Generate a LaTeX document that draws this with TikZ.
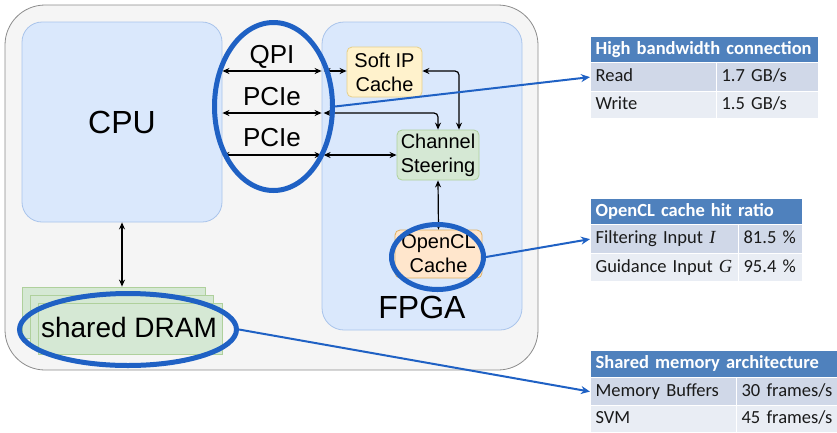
\documentclass[tikz,border=0pt]{standalone}
\usepackage{fontspec}
\setmainfont{Liberation Sans}
\newfontfamily\calibri{Carlito}
\newfontfamily\serifit{Liberation Serif}
\usetikzlibrary{arrows.meta,shapes.geometric}
\definecolor{outerfill}{HTML}{F5F5F5}
\definecolor{outerdraw}{HTML}{8C8C8C}
\definecolor{bluefill}{HTML}{DAE8FC}
\definecolor{bluedraw}{HTML}{A9C4EB}
\definecolor{yelfill}{HTML}{FFF2CC}
\definecolor{yeldraw}{HTML}{E6CF8A}
\definecolor{grnfill}{HTML}{D5E8D4}
\definecolor{grndraw}{HTML}{AFD09C}
\definecolor{orgfill}{HTML}{FFE6CC}
\definecolor{orgdraw}{HTML}{E0B060}
\definecolor{hiblue}{HTML}{1F61C4}
\definecolor{hdrfill}{HTML}{4F81BD}
\definecolor{rowa}{HTML}{D0D8E8}
\definecolor{rowb}{HTML}{E9EDF4}
\definecolor{celltext}{HTML}{1A1A1A}
\tikzset{
  box/.style={shape=rectangle, inner sep=0pt, align=center},
  biarrow/.style={{Stealth[length=7pt,width=6pt]}-{Stealth[length=7pt,width=6pt]}, line width=1.2pt, black},
  ring/.style={shape=ellipse, draw=hiblue, line width=5pt, inner sep=0pt},
  blueline/.style={-{Stealth[length=9pt,width=8pt]}, draw=hiblue, line width=2pt},
  cell/.style={shape=rectangle, draw=white, line width=1.2pt, anchor=north west,
    inner xsep=5pt, inner ysep=0pt, align=left, text height=13pt, text depth=4pt,
    font=\calibri\fontsize{18.5}{22}\selectfont, text=celltext},
  hdr/.style={cell, fill=hdrfill, text=white, font=\calibri\bfseries\fontsize{18.5}{22}\selectfont},
  bigtxt/.style={anchor=base, inner sep=0pt}
}
\begin{document}
\begin{tikzpicture}[x=1pt,y=-1pt]
\useasboundingbox (0,0) rectangle (837,432);
% containers
\node[box, fill=outerfill, draw=outerdraw, line width=0.8pt, rounded corners=40pt,
      minimum width=533pt, minimum height=365pt] (outer) at (271.5,187.5) {};
\node[box, fill=bluefill, draw=bluedraw, line width=0.8pt, rounded corners=20pt,
      minimum width=200pt, minimum height=200pt] (cpu) at (122,122) {};
\node[box, fill=bluefill, draw=bluedraw, line width=0.8pt, rounded corners=22pt,
      minimum width=200pt, minimum height=308pt] (fpga) at (422,176) {};
\node[bigtxt, font=\fontsize{32}{36}\selectfont] (cpulbl) at (122,133.5) {CPU};
\node[bigtxt, font=\fontsize{32}{36}\selectfont] (fpgalbl) at (422,318.5) {FPGA};
% inner blocks
\node[box, fill=yelfill, draw=yeldraw, line width=0.8pt, rounded corners=5pt,
      minimum width=75pt, minimum height=50pt, font=\fontsize{20}{24}\selectfont] (softip) at (384.5,72) {Soft IP\\Cache};
\node[box, fill=grnfill, draw=grndraw, line width=0.8pt, rounded corners=5pt,
      minimum width=82pt, minimum height=50pt, font=\fontsize{20}{24}\selectfont] (chan) at (438,155) {Channel\\Steering};
\node[box, fill=orgfill, draw=orgdraw, line width=0.8pt, rounded corners=5pt,
      minimum width=87pt, minimum height=48pt, font=\fontsize{20}{24}\selectfont] (ocl) at (438.5,254) {OpenCL\\Cache};
% shared DRAM stack
\node[box, fill=grnfill, draw=grndraw, line width=0.8pt, minimum width=183pt, minimum height=51pt] (d1) at (113.5,312.5) {};
\node[box, fill=grnfill, draw=grndraw, line width=0.8pt, minimum width=183pt, minimum height=51pt] (d2) at (121.5,320.5) {};
\node[box, fill=grnfill, draw=grndraw, line width=0.8pt, minimum width=184pt, minimum height=51pt] (d3) at (130,328.5) {};
\node[bigtxt, font=\fontsize{28}{32}\selectfont] (dramlbl) at (129,337) {shared DRAM};
% bus labels
\node[bigtxt, font=\fontsize{26}{30}\selectfont] (qpi) at (272,63) {QPI};
\node[bigtxt, font=\fontsize{26}{30}\selectfont] (pcie1) at (272,105) {PCIe};
\node[bigtxt, font=\fontsize{26}{30}\selectfont] (pcie2) at (272,146.5) {PCIe};
% connectors CPU <-> FPGA
\draw[biarrow] (cpu.east |- 0,71) -- (fpga.west |- 0,71);
\draw[biarrow] (cpu.east |- 0,113) -- (fpga.west |- 0,113);
\draw[biarrow] (cpu.east |- 0,155) -- (fpga.west |- 0,155);
% inside FPGA
\draw[biarrow] ([xshift=2pt]fpga.west |- 0,71) -- (softip.west |- 0,71);
\draw[biarrow, rounded corners=4pt] ([xshift=2pt]fpga.west |- 0,113) -| (chan.north);
\draw[biarrow] ([xshift=2pt]fpga.west |- chan.west) -- (chan.west);
\draw[biarrow, rounded corners=4pt] (softip.east |- 0,71) -| ([xshift=21pt]chan.north);
\draw[biarrow] (chan.south) -- (ocl.north);
% CPU <-> DRAM
\draw[biarrow] (cpu.south) -- (cpu.south |- d1.north);
% highlight rings
\node[ring, minimum width=118pt, minimum height=168pt] (e1) at (273.5,106.5) {};
\node[ring, minimum width=92pt, minimum height=65pt] (e2) at (437.5,257) {};
\node[ring, minimum width=217pt, minimum height=72pt] (e3) at (128,329.5) {};
% table 1
\node[hdr, minimum width=228pt, minimum height=26pt, text width=218pt] (t1h) at (590,36) {High bandwidth connection};
\node[cell, fill=rowa, minimum width=126pt, minimum height=29pt, text width=116pt] (t1a) at (590,62) {Read};
\node[cell, fill=rowa, minimum width=102pt, minimum height=29pt, text width=92pt] (t1b) at (716,62) {1.7 GB/s};
\node[cell, fill=rowb, minimum width=126pt, minimum height=27pt, text width=116pt] (t1c) at (590,91) {Write};
\node[cell, fill=rowb, minimum width=102pt, minimum height=27pt, text width=92pt] (t1d) at (716,91) {1.5 GB/s};
% table 2
\node[hdr, minimum width=212pt, minimum height=26pt, text width=202pt] (t2h) at (590,198) {OpenCL cache hit ratio};
\node[cell, fill=rowa, minimum width=148pt, minimum height=29pt, text width=138pt] (t2a) at (590,224) {Filtering Input {\serifit\itshape I}};
\node[cell, fill=rowa, minimum width=64pt, minimum height=29pt, text width=54pt] (t2b) at (738,224) {81.5 \%};
\node[cell, fill=rowb, minimum width=148pt, minimum height=28pt, text width=138pt] (t2c) at (590,253) {Guidance Input {\serifit\itshape G}};
\node[cell, fill=rowb, minimum width=64pt, minimum height=28pt, text width=54pt] (t2d) at (738,253) {95.4 \%};
% table 3
\node[hdr, minimum width=247pt, minimum height=27pt, text width=237pt] (t3h) at (590,350) {Shared memory architecture};
\node[cell, fill=rowa, minimum width=146pt, minimum height=28pt, text width=136pt] (t3a) at (590,377) {Memory Buffers};
\node[cell, fill=rowa, minimum width=101pt, minimum height=28pt, text width=91pt] (t3b) at (736,377) {30 frames/s};
\node[cell, fill=rowb, minimum width=146pt, minimum height=27pt, text width=136pt] (t3c) at (590,405) {SVM};
\node[cell, fill=rowb, minimum width=101pt, minimum height=27pt, text width=91pt] (t3d) at (736,405) {45 frames/s};
% callout lines
\draw[blueline] (e1.east) -- (t1a.west);
\draw[blueline] (e2.east) -- (t2a.west);
\draw[blueline] (e3.east) -- (t3a.west);
\end{tikzpicture}
\end{document}
